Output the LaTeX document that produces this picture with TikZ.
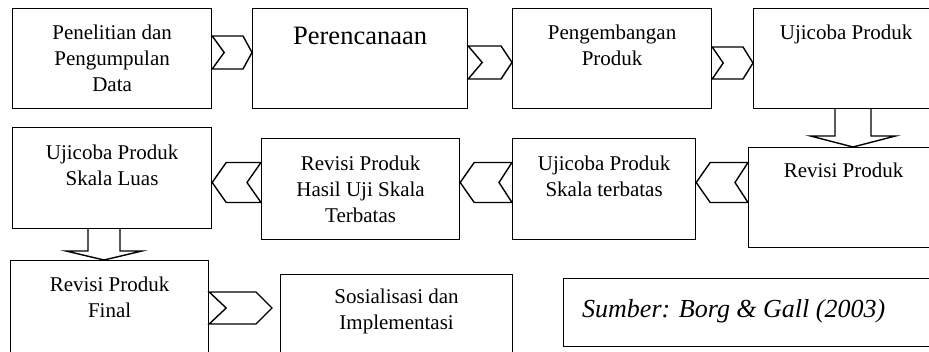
\documentclass[tikz,border=0pt]{standalone}
\usepackage{fontspec}
\setmainfont{Liberation Serif}
\usetikzlibrary{positioning, calc}

% block chevron: back point, tip point, half height, notch depth, head length
\newcommand{\blockchev}[5]{%
  \draw[chev] ($#1+(0,-#3)$) -- ($#2!#5!#1+(0,-#3)$) -- #2 -- ($#2!#5!#1+(0,#3)$)
    -- ($#1+(0,#3)$) -- ($#1!#4!#2$) -- cycle;}
% block arrow down: start, tip, shaft half width, head half width, head length
\newcommand{\blockdown}[5]{%
  \draw[chev] ($#1+(-#3,0)$) -- ($#2+(-#3,-#5)$) -- ($#2+(-#4,-#5)$) -- #2
    -- ($#2+(#4,-#5)$) -- ($#2+(#3,-#5)$) -- ($#1+(#3,0)$);}

\begin{document}
\begin{tikzpicture}[
    x=1pt, y=-1pt,
    box/.style={draw, line width=1.2pt, anchor=north west, inner sep=0pt},
    txt/.style={anchor=north, inner sep=0pt, align=center, font=\fontsize{21}{26}\selectfont},
    chev/.style={line width=1.4pt, line join=miter}
]

\useasboundingbox (0,0) rectangle (929,352);
\clip (0,0) rectangle (929,352);

% Row 1
\node[box, minimum width=199pt, minimum height=100pt] (pen) at (12,8) {};
\node[box, minimum width=215pt, minimum height=100pt] (per) at (252,8) {};
\node[box, minimum width=199pt, minimum height=100pt] (pgb) at (512,8) {};
\node[box, minimum width=185pt, minimum height=100pt] (uji) at (753,8) {};

\node[txt, below=17pt of pen.north] (pen-t) {Penelitian dan\\Pengumpulan\\Data};
\node[txt, font=\fontsize{26.5}{30}\selectfont, below=19pt of per.north] (per-t) {Perencanaan};
\node[txt, below=17pt of pgb.north] (pgb-t) {Pengembangan\\Produk};
\node[txt, below=17pt of uji.north] (uji-t) {Ujicoba Produk};

% Row 2
\node[box, minimum width=190pt, minimum height=100pt] (rev) at (748,147) {};
\node[box, minimum width=183pt, minimum height=101pt] (ujt) at (512,138) {};
\node[box, minimum width=198pt, minimum height=101pt] (rvt) at (261,138) {};
\node[box, minimum width=199pt, minimum height=101pt] (ujl) at (12,127) {};

\node[txt, below=15.7pt of rev.north] (rev-t) {Revisi Produk};
\node[txt, below=17.7pt of ujt.north] (ujt-t) {Ujicoba Produk\\Skala terbatas};
\node[txt, below=17.7pt of rvt.north] (rvt-t) {Revisi Produk\\Hasil Uji Skala\\Terbatas};
\node[txt, below=17.7pt of ujl.north] (ujl-t) {Ujicoba Produk\\Skala Luas};

% Row 3
\node[box, minimum width=198pt, minimum height=110pt] (rvf) at (10,260) {};
\node[box, minimum width=232pt, minimum height=100pt] (sos) at (280,274) {};
\node[box, minimum width=400pt, minimum height=68pt] (src) at (563,278) {};

\node[txt, below=16.7pt of rvf.north] (rvf-t) {Revisi Produk\\Final};
\node[txt, below=14.7pt of sos.north] (sos-t) {Sosialisasi dan\\Implementasi};
\node[anchor=base west, inner sep=0pt, font=\fontsize{26}{30}\selectfont\itshape] (src-t) at (582,318) {Sumber: Borg \& Gall (2003)};

% Chevrons
\blockchev{(pen.east |- 0,52.5)}{(per.west |- 0,52.5)}{16.5}{12pt}{9pt}
\blockchev{(per.east |- 0,62.5)}{(pgb.west |- 0,62.5)}{16.5}{14pt}{11pt}
\blockchev{(pgb.east |- 0,63)}{(uji.west |- 0,63)}{16}{11pt}{10pt}
\blockchev{(rev.west |- 0,182.5)}{(ujt.east |- 0,182.5)}{20}{13pt}{14pt}
\blockchev{(ujt.west |- 0,182.5)}{(rvt.east |- 0,182.5)}{20}{13pt}{14pt}
\blockchev{(rvt.west |- 0,182.5)}{(ujl.east |- 0,182.5)}{20}{14pt}{14pt}
\coordinate (sos-in) at ($(sos.west |- 0,308)+(-8,0)$);
\blockchev{(rvf.east |- 0,308)}{(sos-in)}{16}{17pt}{16pt}

% Down arrows
\blockdown{(uji.south -| 853,0)}{(rev.north -| 853,0)}{18}{42.5}{11}
\blockdown{(ujl.south -| 104,0)}{(rvf.north -| 104,0)}{16}{38}{9}

\end{tikzpicture}
\end{document}
